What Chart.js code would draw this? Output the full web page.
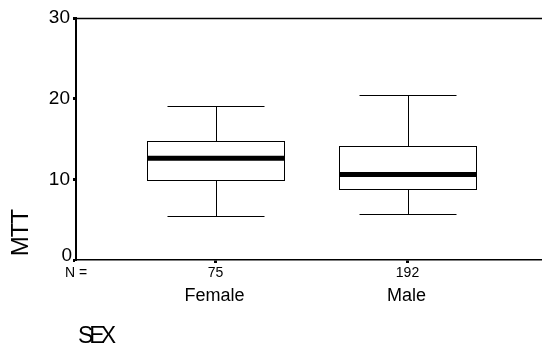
<!DOCTYPE html>
<html>
<head>
<meta charset="utf-8">
<script src="https://cdn.jsdelivr.net/npm/chart.js@4.4.1/dist/chart.umd.min.js"></script>
<style>
    html, body { margin: 0; padding: 0; background: #fff; }
    #wrap { width: 542px; height: 349px; }
</style>
</head>
<body>
<div id="wrap"><canvas id="boxChart"></canvas></div>
<script>
// Box plot values (MTT by SEX)
const categories = ['Female', 'Male'];
const nValues = [75, 192];
const whiskerLow = [5.5, 5.7];
const q1 = [9.9, 8.8];
const median = [12.6, 10.6];
const q3 = [14.8, 14.1];
const whiskerHigh = [19.1, 20.4];
const yTicks = [0, 10, 20, 30];

const FONT = '"Liberation Sans", Arial, sans-serif';

// draws the boxes, whiskers and the extra texts with the chart's scales
const boxPlotPlugin = {
    id: 'boxPlot',
    afterDraw(chart) {
        const ctx = chart.ctx;
        const x = chart.scales.x;
        const y = chart.scales.y;
        const area = chart.chartArea;
        const px = v => Math.round(v) + 0.5;

        ctx.save();
        ctx.strokeStyle = '#000';
        ctx.fillStyle = '#000';

        // top frame line
        ctx.lineWidth = 1.5;
        ctx.beginPath();
        ctx.moveTo(area.left, px(area.top));
        ctx.lineTo(area.right, px(area.top));
        ctx.stroke();

        categories.forEach((cat, i) => {
            const c = i + 1;
            const cx = px(x.getPixelForValue(c));
            const bl = px(x.getPixelForValue(c - 0.358));
            const br = px(x.getPixelForValue(c + 0.358));
            const wl = px(x.getPixelForValue(c - 0.252));
            const wr = px(x.getPixelForValue(c + 0.252));
            const yLo = px(y.getPixelForValue(whiskerLow[i]));
            const yQ1 = px(y.getPixelForValue(q1[i]));
            const yMed = y.getPixelForValue(median[i]);
            const yQ3 = px(y.getPixelForValue(q3[i]));
            const yHi = px(y.getPixelForValue(whiskerHigh[i]));

            ctx.lineWidth = 1;
            ctx.beginPath();
            // whiskers
            ctx.moveTo(cx, yHi); ctx.lineTo(cx, yQ3);
            ctx.moveTo(wl, yHi); ctx.lineTo(wr, yHi);
            ctx.moveTo(cx, yQ1); ctx.lineTo(cx, yLo);
            ctx.moveTo(wl, yLo); ctx.lineTo(wr, yLo);
            ctx.stroke();

            // box
            ctx.fillStyle = '#fff';
            ctx.fillRect(bl, yQ3, br - bl, yQ1 - yQ3);
            ctx.strokeRect(bl, yQ3, br - bl, yQ1 - yQ3);

            // median
            ctx.lineWidth = 5;
            ctx.beginPath();
            ctx.moveTo(bl, yMed); ctx.lineTo(br, yMed);
            ctx.stroke();

            // category name
            ctx.fillStyle = '#000';
            ctx.font = '18px ' + FONT;
            ctx.textAlign = 'center';
            ctx.textBaseline = 'alphabetic';
            ctx.fillText(cat, x.getPixelForValue(c) - 1, 301);
        });

        // the 0 label sits above its tick, as in the original
        ctx.font = '19px ' + FONT;
        ctx.textAlign = 'right';
        ctx.textBaseline = 'alphabetic';
        ctx.fillText(String(yTicks[0]), 72, y.getPixelForValue(yTicks[0]) + 1);

        // N = label
        ctx.font = '14px ' + FONT;
        ctx.textAlign = 'left';
        ctx.fillText('N =', 65, 277);

        // axis titles
        ctx.font = '23px ' + FONT;
        ctx.letterSpacing = '-4px';
        ctx.fillText('SEX', 78, 343);
        ctx.font = '24px ' + FONT;
        ctx.letterSpacing = '-1px';
        ctx.translate(28, 233);
        ctx.rotate(-Math.PI / 2);
        ctx.textAlign = 'center';
        ctx.fillText('MTT', 0, 0);
        ctx.restore();
    }
};

new Chart(document.getElementById('boxChart').getContext('2d'), {
    type: 'scatter',
    data: { datasets: [] },
    options: {
        responsive: true,
        maintainAspectRatio: false,
        animation: false,
        layout: { padding: { top: 18, left: 0, right: 0, bottom: 0 } },
        plugins: {
            legend: { display: false },
            tooltip: { enabled: false }
        },
        scales: {
            x: {
                type: 'linear',
                min: 0.2734,
                max: 2.7005,
                afterFit: s => { s.height = 89; },
                afterBuildTicks: s => { s.ticks = categories.map((c, i) => ({ value: i + 1 })); },
                ticks: {
                    color: '#000',
                    font: { family: FONT, size: 14 },
                    padding: 2,
                    maxRotation: 0,
                    callback: (v, i) => nValues[i]
                },
                grid: { drawOnChartArea: false, tickLength: 3, tickWidth: 3, color: '#000' },
                border: { display: true, color: '#000', width: 1.5 }
            },
            y: {
                min: 0,
                max: 30,
                afterFit: s => { s.width = 76; },
                afterBuildTicks: s => { s.ticks = yTicks.map(v => ({ value: v })); },
                ticks: {
                    color: '#000',
                    font: { family: FONT, size: 19 },
                    padding: 3,
                    callback: v => (v === 0 ? '' : v)
                },
                grid: { drawOnChartArea: false, tickLength: 3, tickWidth: 3, color: '#000' },
                border: { display: true, color: '#000', width: 2 }
            }
        }
    },
    plugins: [boxPlotPlugin]
});
</script>
</body>
</html>
